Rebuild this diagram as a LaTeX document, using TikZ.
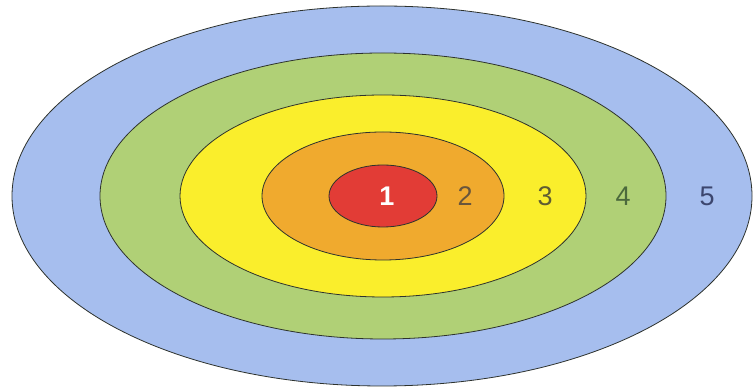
\documentclass[tikz,border=0pt]{standalone}
\usepackage{fontspec}
\setmainfont{Liberation Sans}
\definecolor{zoneblue}{RGB}{166,190,238}
\definecolor{zonegreen}{RGB}{176,208,118}
\definecolor{zoneyellow}{RGB}{250,238,44}
\definecolor{zoneorange}{RGB}{240,170,46}
\definecolor{zonered}{RGB}{226,60,54}
\definecolor{edgedark}{RGB}{45,50,45}
\usetikzlibrary{positioning}
\tikzset{
  zone/.style={draw=edgedark,line width=0.8pt},
  num/.style={font=\fontsize{27}{27}\selectfont,inner sep=0pt},
}
\begin{document}
\begin{tikzpicture}[x=1pt,y=1pt]
    \useasboundingbox (0,0) rectangle (754,390);

    % rings, outer to inner
    \foreach \cx/\rx/\ry/\col in {382/370/190/zoneblue,383/283/143/zonegreen,
                                  383/203/101/zoneyellow,383/121/64/zoneorange,
                                  383/54/31/zonered}
      \draw[zone,fill=\col] (\cx,194) ellipse [x radius=\rx,y radius=\ry];

    \node[num,text=white,font=\fontsize{27}{27}\selectfont\bfseries] (n1) at (387,194) {1};
    \node[num,text={rgb,255:red,105;green,85;blue,60}] (n2) at (465,194) {2};
    \node[num,text={rgb,255:red,95;green,92;blue,50}] (n3) at (545,194) {3};
    \node[num,text={rgb,255:red,75;green,105;blue,60}] (n4) at (623,194) {4};
    \node[num,text={rgb,255:red,60;green,70;blue,110}] (n5) at (707,194) {5};

  \end{tikzpicture}
\end{document}
